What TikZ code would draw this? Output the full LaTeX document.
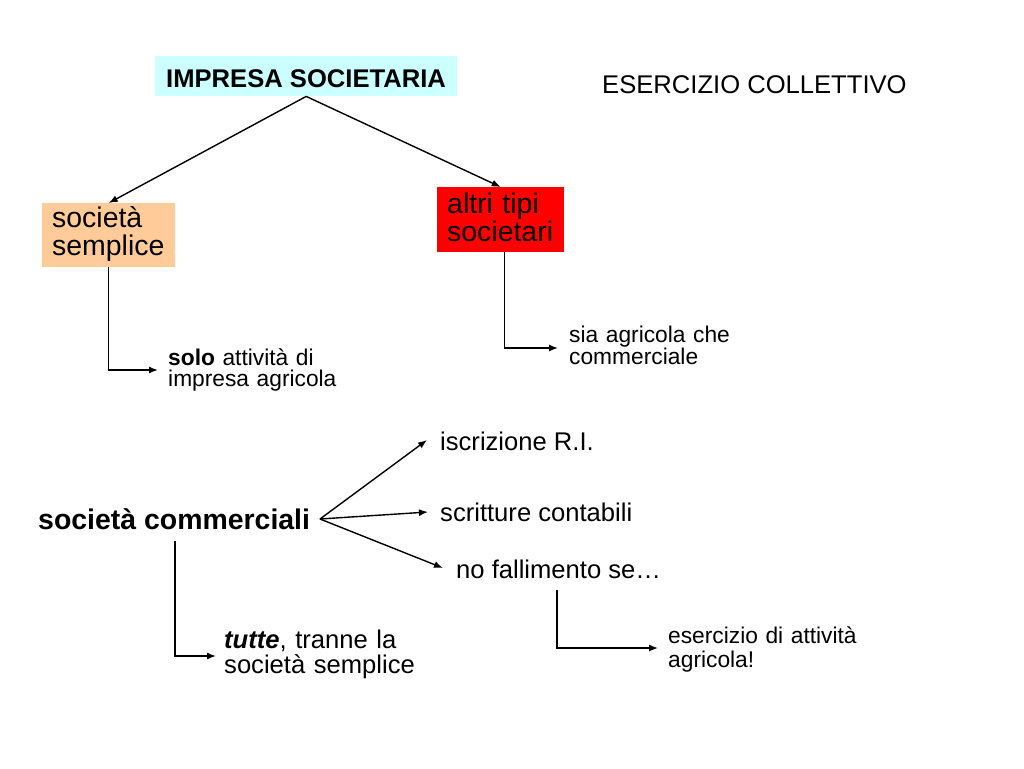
\documentclass[tikz,border=0pt]{standalone}
\usepackage{fontspec}
\setmainfont{Liberation Sans}
\usetikzlibrary{arrows.meta,calc}
\newcommand\fsA{\fontsize{22.76}{21}\selectfont}
\newcommand\fsAw{\fontsize{22.76}{24}\selectfont}
\newcommand\fsB{\fontsize{25.6}{25}\selectfont}
\newcommand\fsC{\fontsize{28.44}{28.5}\selectfont}
\begin{document}
\begin{tikzpicture}[x=1pt,y=-1pt,
  conn/.style={line width=1.4pt,-{Latex[length=9pt,width=7pt]}},
  txt/.style={inner sep=0pt,anchor=base west,align=left},
  boxfill/.style={draw=none,inner sep=0pt,anchor=north west}]
\useasboundingbox[fill=white] (0,0) rectangle (1024,768);
% boxes
\node[boxfill,fill={rgb,255:red,204;green,255;blue,255},minimum width=302pt,minimum height=40pt] (impbox) at (155,56) {};
\node[txt,font=\fsB\bfseries] (imptxt) at (166,87) {IMPRESA SOCIETARIA};
\node[txt,font=\fsB] (eserc) at (602,93) {ESERCIZIO COLLETTIVO};
\node[boxfill,fill={rgb,255:red,255;green,204;blue,153},minimum width=133pt,minimum height=64pt] (ssbox) at (42,203) {};
\node[txt,font=\fsC,text width=120pt] (sstxt) at (52,227) {società\\semplice};
\node[boxfill,fill={rgb,255:red,255;green,0;blue,0},minimum width=127pt,minimum height=65pt] (altbox) at (437,187) {};
\node[txt,font=\fsC,text width=120pt] (alttxt) at (447,213) {altri tipi\\societari};
% texts
\node[txt,font=\fsA,text width=200pt] (solo) at (168,365) {\textbf{solo} attività di\\impresa agricola};
\node[txt,font=\fsA,text width=200pt] (sia) at (569,342) {sia agricola che\\commerciale};
\node[txt,font=\fsC\bfseries] (sc) at (38,529) {società commerciali};
\node[txt,font=\fsB] (iscr) at (440,450) {iscrizione R.I.};
\node[txt,font=\fsB] (scrit) at (440,521) {scritture contabili};
\node[txt,font=\fsB] (nofall) at (456,578) {no fallimento se…};
\node[txt,font=\fsB,text width=220pt] (tutte) at (224,648) {\textbf{\itshape tutte}, tranne la\\società semplice};
\node[txt,font=\fsAw,text width=220pt] (eatt) at (668,643) {esercizio di attività\\agricola!};
% connector end points
\coordinate (t1) at (158,370);
\coordinate (t2) at (558,348);
\coordinate (sco) at (320,519);
\coordinate (t3) at (427,440);
\coordinate (t4) at (428,512);
\coordinate (t5) at (443,568);
\coordinate (s6) at (175,541);
\coordinate (t6) at (216,656);
\coordinate (s7) at (557,590);
\coordinate (t7) at (658,648);
% connectors
\draw[conn] (impbox.south) -- (ssbox.north);
\draw[conn] (impbox.south) -- (altbox.north);
\draw[conn] (ssbox.south) |- (t1);
\draw[conn] ([xshift=3.5pt]altbox.south) |- (t2);
\draw[conn] (sco) -- (t3);
\draw[conn] (sco) -- (t4);
\draw[conn] (sco) -- (t5);
\draw[conn] (s6) |- (t6);
\draw[conn] (s7) |- (t7);
\end{tikzpicture}
\end{document}
